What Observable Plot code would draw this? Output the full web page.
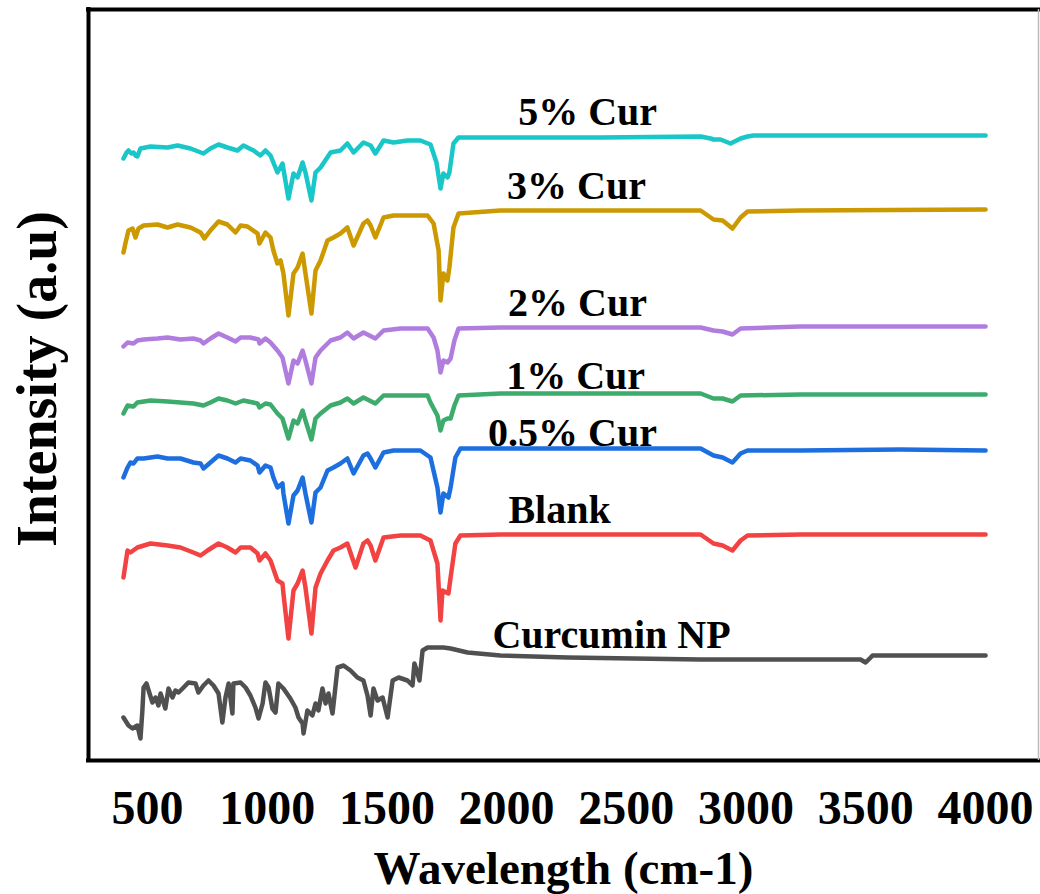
<!DOCTYPE html>
<html>
<head>
<meta charset="utf-8">
<script src="https://cdn.jsdelivr.net/npm/d3@7"></script>
<script src="https://cdn.jsdelivr.net/npm/@observablehq/plot@0.6"></script>
<style>
  html, body { margin: 0; padding: 0; background: #fff; }
  #chart svg { display: block; }
</style>
</head>
<body>
<div id="chart"></div>
<script>
// FTIR spectra, stacked with vertical offsets: [wavenumber (cm-1), intensity (a.u.)]
const cur5 = [[400,602],[413,608],[421,610],[433,607],[442,608],[450,605],[458,604],[471,612],[513,614],[584,613],[626,615],[680,612],[734,607],[763,612],[797,616],[834,613],[876,610],[901,615],[943,610],[972,605],[993,610],[1014,605],[1043,588],[1064,597],[1089,562],[1110,587],[1127,583],[1148,598],[1160,588],[1185,560],[1202,588],[1223,593],[1265,608],[1306,610],[1335,617],[1361,608],[1402,618],[1432,615],[1452,607],[1486,620],[1528,618],[1586,620],[1640,620],[1682,616],[1707,598],[1724,572],[1736,587],[1753,583],[1761,588],[1778,617],[1799,623],[1849,623],[1974,623],[2392,623],[2810,624],[2852,622],[2864,621],[2893,621],[2935,617],[2977,622],[3006,624],[3031,625],[3227,625],[3645,625],[4000,625]];

const cur3 = [[400,508],[408,517],[421,530],[438,532],[450,523],[463,532],[484,535],[542,536],[584,533],[626,536],[680,533],[722,528],[738,522],[763,530],[797,539],[834,536],[868,528],[889,535],[918,534],[960,527],[968,517],[993,528],[1014,523],[1026,510],[1043,497],[1056,500],[1068,487],[1089,445],[1110,487],[1127,493],[1148,507],[1160,487],[1185,447],[1202,490],[1223,500],[1252,520],[1277,523],[1306,527],[1335,533],[1361,515],[1402,537],[1419,540],[1432,535],[1452,523],[1486,543],[1528,545],[1586,545],[1670,545],[1695,537],[1716,510],[1724,460],[1736,487],[1753,480],[1761,493],[1778,533],[1799,547],[1974,550],[2810,550],[2864,541],[2902,540],[2943,532],[2977,543],[3006,549],[3227,550],[4000,551]];

const cur2 = [[400,414],[417,418],[442,417],[458,420],[484,421],[542,422],[584,423],[638,421],[692,422],[722,420],[734,417],[763,422],[797,427],[834,423],[868,419],[889,423],[930,423],[964,421],[968,417],[993,422],[1014,418],[1043,410],[1064,403],[1089,377],[1110,400],[1127,397],[1148,410],[1160,400],[1185,377],[1202,403],[1223,410],[1265,420],[1306,423],[1335,428],[1361,422],[1402,428],[1452,422],[1486,430],[1557,432],[1670,432],[1695,423],[1711,410],[1724,388],[1736,400],[1753,398],[1766,402],[1782,420],[1799,432],[1974,433],[2810,433],[2864,430],[2902,429],[2943,426],[2977,432],[3227,434],[4000,434]];

const cur1 = [[400,347],[417,355],[442,354],[458,358],[513,360],[584,359],[638,358],[692,357],[734,355],[763,358],[797,362],[834,360],[868,357],[901,360],[960,357],[968,353],[993,357],[1014,356],[1043,347],[1064,342],[1089,322],[1110,340],[1127,337],[1148,350],[1160,340],[1185,321],[1202,342],[1223,347],[1265,355],[1306,358],[1335,362],[1361,357],[1402,363],[1452,357],[1486,365],[1557,365],[1670,365],[1682,358],[1711,345],[1724,330],[1736,340],[1753,342],[1766,342],[1782,355],[1799,365],[1974,367],[2810,367],[2864,362],[2902,362],[2943,359],[2977,365],[3227,366],[4000,366]];

const cur05 = [[400,283],[417,293],[429,298],[442,297],[458,302],[484,302],[542,304],[584,302],[638,302],[692,298],[722,297],[734,292],[763,298],[797,305],[834,302],[868,298],[889,302],[930,300],[960,295],[968,288],[993,295],[1014,293],[1026,283],[1043,273],[1064,277],[1068,267],[1089,237],[1110,265],[1127,270],[1148,283],[1160,267],[1185,238],[1202,268],[1223,273],[1252,290],[1277,293],[1306,297],[1335,302],[1361,287],[1402,305],[1419,307],[1432,302],[1452,293],[1486,308],[1528,310],[1640,310],[1682,303],[1711,273],[1724,248],[1736,267],[1757,263],[1766,273],[1786,303],[1807,312],[1974,312],[2810,312],[2864,305],[2902,303],[2943,298],[2977,307],[3006,310],[3227,310],[3645,311],[4000,310]];

const blank = [[400,183],[417,210],[429,208],[458,213],[513,217],[584,215],[638,213],[692,208],[722,205],[751,210],[797,217],[834,213],[868,208],[889,213],[930,213],[960,207],[968,200],[993,207],[1014,200],[1043,180],[1064,177],[1068,167],[1089,122],[1110,170],[1127,177],[1148,190],[1160,173],[1185,127],[1202,173],[1223,187],[1252,200],[1277,210],[1306,213],[1335,217],[1369,193],[1402,217],[1419,220],[1432,215],[1452,200],[1486,223],[1557,225],[1640,225],[1682,220],[1711,197],[1724,140],[1732,170],[1757,167],[1766,183],[1786,217],[1807,225],[1974,226],[2810,226],[2864,217],[2902,215],[2943,210],[2977,220],[3006,225],[3227,226],[3645,226],[4000,226]];

const curcuminNP = [[400,43],[421,35],[438,32],[458,35],[471,22],[479,50],[484,73],[496,77],[509,67],[521,58],[534,63],[546,55],[555,67],[567,58],[575,52],[588,72],[605,63],[617,70],[630,68],[651,73],[671,78],[701,77],[713,68],[734,75],[755,80],[776,75],[797,67],[813,38],[826,63],[839,77],[855,47],[859,77],[889,78],[910,73],[930,65],[951,53],[964,42],[981,57],[993,78],[1006,73],[1022,52],[1035,48],[1047,77],[1068,72],[1097,62],[1118,53],[1131,43],[1148,37],[1152,27],[1168,50],[1189,45],[1202,57],[1214,50],[1231,72],[1244,57],[1256,67],[1273,47],[1294,93],[1319,95],[1348,90],[1377,83],[1402,80],[1419,65],[1432,45],[1444,72],[1461,60],[1482,63],[1503,43],[1524,80],[1549,83],[1586,80],[1607,75],[1615,97],[1628,87],[1636,80],[1649,110],[1670,113],[1736,113],[1766,112],[1837,108],[1974,105],[2254,103],[2530,102],[2810,101],[3227,101],[3478,101],[3499,98],[3520,103],[3528,105],[3645,105],[4000,105]];

const seriesNames = ["5% Cur", "3% Cur", "2% Cur", "1% Cur", "0.5% Cur", "Blank", "Curcumin NP"];
const seriesData = [cur5, cur3, cur2, cur1, cur05, blank, curcuminNP];
const seriesColors = ["#19c6c8", "#cc9900", "#b07ddf", "#3cab6c", "#1d6fdf", "#f24242", "#505050"];
const xTicks = [500, 1000, 1500, 2000, 2500, 3000, 3500, 4000];
const xTitle = "Wavelength (cm-1)";
const yTitle = "Intensity (a.u)";

// Where each spectrum's name sits, in chart units (wavenumber, intensity)
const labelPos = [[2338, 636], [2292, 562], [2296, 445], [2288, 372], [2275, 315], [2221, 238], [2438, 113]];

const xDomain = [254, 4221];
const yDomain = [0, 751];
const font = "'Liberation Serif', 'Times New Roman', Times, serif";

const rows = seriesData.flatMap((s, i) => s.map(([x, y]) => ({x, y, name: seriesNames[i]})));
const labels = seriesNames.map((name, i) => ({name, x: labelPos[i][0], y: labelPos[i][1]}));

const chart = Plot.plot({
  width: 1040,
  height: 894,
  marginLeft: 88,
  marginRight: 2,
  marginTop: 9,
  marginBottom: 134,
  style: {fontFamily: font, background: "#fff", color: "#000"},
  x: {domain: xDomain},
  y: {domain: yDomain, axis: null},
  color: {domain: seriesNames, range: seriesColors},
  marks: [
    Plot.line(rows, {x: "x", y: "y", z: "name", stroke: "name", strokeWidth: 4.5, strokeLinejoin: "round", strokeLinecap: "round"}),
    Plot.text(labels, {x: "x", y: "y", text: "name", fontSize: 40, fontWeight: "bold", lineAnchor: "bottom", fill: "#000"}),
    // plot frame: heavy left, top and bottom edges, thin right edge
    Plot.ruleX([xDomain[0]], {stroke: "#000", strokeWidth: 4, strokeLinecap: "square"}),
    Plot.ruleY([yDomain[0], yDomain[1]], {stroke: "#000", strokeWidth: 4, strokeLinecap: "square"}),
    Plot.ruleX([xDomain[1]], {stroke: "#bbb", strokeWidth: 1.5}),
    Plot.axisX({ticks: xTicks, tickSize: 0, tickPadding: 29, tickFormat: d => String(d), fontSize: 48, fontWeight: "bold", fontFamily: font, label: null}),
    Plot.text([xTitle], {frameAnchor: "bottom", dy: 123, lineAnchor: "bottom", fontSize: 47, fontWeight: "bold", fill: "#000"}),
    Plot.text([yTitle], {frameAnchor: "left", dx: -33, dy: -6, rotate: -90, textAnchor: "middle", lineAnchor: "bottom", fontSize: 56, fontWeight: "bold", fill: "#000"})
  ]
});
document.getElementById("chart").appendChild(chart);
</script>
</body>
</html>
